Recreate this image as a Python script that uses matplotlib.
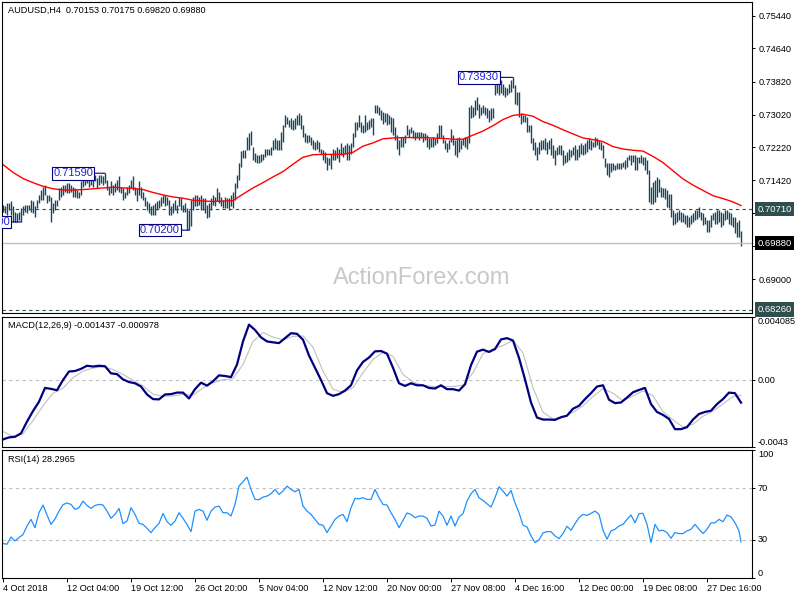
import numpy as np
import matplotlib.pyplot as plt
from matplotlib import transforms

# %% data (prices in 1e-4 units, one bar per 4 hours)
highs = [
    7082, 7078, 7086, 7086, 7090, 7078, 7065, 7061, 7065, 7073,
    7078, 7082, 7082, 7082, 7094, 7090, 7078, 7094, 7106, 7118,
    7126, 7130, 7106, 7106, 7102, 7086, 7094, 7094, 7122, 7126,
    7130, 7130, 7134, 7134, 7130, 7126, 7122, 7118, 7114, 7139,
    7147, 7155, 7157, 7151, 7155, 7151, 7155, 7147, 7155, 7155,
    7151, 7159, 7143, 7126, 7139, 7130, 7134, 7143, 7151, 7126,
    7122, 7114, 7126, 7130, 7143, 7151, 7126, 7122, 7139, 7126,
    7114, 7102, 7090, 7086, 7078, 7082, 7086, 7090, 7094, 7102,
    7106, 7106, 7102, 7094, 7078, 7086, 7094, 7082, 7102, 7098,
    7082, 7086, 7073, 7069, 7094, 7102, 7106, 7106, 7102, 7106,
    7098, 7098, 7082, 7086, 7098, 7106, 7102, 7122, 7114, 7102,
    7094, 7102, 7098, 7098, 7106, 7114, 7134, 7155, 7183, 7212,
    7216, 7216, 7248, 7257, 7261, 7224, 7208, 7204, 7204, 7207,
    7207, 7219, 7219, 7219, 7223, 7240, 7244, 7240, 7240, 7260,
    7276, 7301, 7297, 7288, 7293, 7288, 7293, 7301, 7305, 7301,
    7276, 7256, 7252, 7252, 7248, 7240, 7236, 7240, 7236, 7219,
    7215, 7211, 7199, 7195, 7207, 7219, 7215, 7223, 7219, 7232,
    7223, 7227, 7232, 7227, 7232, 7256, 7284, 7284, 7301, 7284,
    7276, 7301, 7284, 7288, 7293, 7293, 7325, 7325, 7321, 7313,
    7309, 7305, 7305, 7301, 7297, 7293, 7272, 7252, 7240, 7248,
    7248, 7252, 7276, 7268, 7272, 7264, 7260, 7260, 7260, 7260,
    7256, 7256, 7252, 7244, 7244, 7248, 7244, 7256, 7276, 7276,
    7252, 7240, 7232, 7240, 7268, 7252, 7240, 7244, 7248, 7240,
    7244, 7248, 7248, 7321, 7325, 7321, 7337, 7345, 7329, 7321,
    7325, 7321, 7317, 7313, 7317, 7317, 7382, 7386, 7378, 7386,
    7378, 7370, 7366, 7378, 7386, 7393, 7374, 7358, 7358, 7305,
    7301, 7301, 7297, 7276, 7276, 7244, 7236, 7223, 7236, 7240,
    7240, 7244, 7236, 7240, 7244, 7227, 7215, 7223, 7227, 7227,
    7215, 7203, 7211, 7219, 7215, 7223, 7227, 7219, 7227, 7232,
    7227, 7232, 7240, 7244, 7240, 7236, 7248, 7244, 7240, 7236,
    7227, 7195, 7183, 7183, 7183, 7183, 7179, 7183, 7183, 7183,
    7187, 7191, 7199, 7203, 7203, 7203, 7203, 7199, 7199, 7203,
    7199, 7199, 7191, 7166, 7126, 7138, 7142, 7150, 7146, 7126,
    7122, 7122, 7118, 7109, 7109, 7069, 7061, 7065, 7069, 7065,
    7061, 7056, 7056, 7052, 7056, 7061, 7069, 7069, 7077, 7065,
    7061, 7052, 7044, 7044, 7056, 7061, 7065, 7069, 7069, 7065,
    7061, 7069, 7069, 7065, 7061, 7052, 7052, 7040, 7044, 7018,
]
lows = [
    7065, 7061, 7057, 7069, 7057, 7041, 7041, 7041, 7045, 7040,
    7057, 7065, 7061, 7069, 7065, 7061, 7053, 7073, 7086, 7094,
    7094, 7106, 7086, 7090, 7041, 7061, 7069, 7078, 7094, 7102,
    7106, 7114, 7110, 7110, 7114, 7102, 7102, 7098, 7098, 7106,
    7126, 7130, 7134, 7126, 7130, 7126, 7139, 7122, 7130, 7134,
    7130, 7134, 7118, 7106, 7110, 7106, 7114, 7118, 7114, 7110,
    7094, 7098, 7106, 7110, 7122, 7118, 7106, 7090, 7106, 7098,
    7094, 7078, 7069, 7061, 7057, 7057, 7057, 7069, 7073, 7078,
    7086, 7078, 7082, 7057, 7057, 7061, 7069, 7061, 7078, 7069,
    7065, 7065, 7021, 7020, 7029, 7069, 7078, 7078, 7082, 7069,
    7069, 7061, 7049, 7053, 7069, 7082, 7078, 7090, 7086, 7078,
    7073, 7073, 7073, 7069, 7078, 7073, 7094, 7122, 7143, 7175,
    7196, 7196, 7216, 7216, 7228, 7191, 7187, 7183, 7183, 7187,
    7191, 7199, 7203, 7203, 7203, 7215, 7219, 7215, 7215, 7215,
    7236, 7272, 7280, 7272, 7268, 7264, 7268, 7276, 7276, 7268,
    7248, 7236, 7232, 7236, 7227, 7219, 7215, 7219, 7211, 7207,
    7191, 7183, 7166, 7179, 7170, 7191, 7191, 7195, 7187, 7203,
    7199, 7207, 7191, 7191, 7207, 7223, 7248, 7264, 7272, 7260,
    7256, 7260, 7264, 7268, 7272, 7252, 7305, 7305, 7301, 7288,
    7280, 7284, 7276, 7280, 7260, 7252, 7240, 7219, 7203, 7223,
    7223, 7232, 7252, 7248, 7256, 7244, 7240, 7244, 7240, 7244,
    7236, 7240, 7223, 7219, 7223, 7223, 7227, 7232, 7244, 7248,
    7232, 7219, 7211, 7219, 7236, 7227, 7203, 7199, 7211, 7219,
    7227, 7223, 7219, 7232, 7293, 7297, 7301, 7313, 7293, 7301,
    7305, 7301, 7293, 7284, 7288, 7293, 7350, 7354, 7350, 7354,
    7350, 7345, 7350, 7354, 7358, 7366, 7329, 7325, 7297, 7280,
    7284, 7284, 7260, 7260, 7232, 7215, 7203, 7191, 7207, 7215,
    7219, 7215, 7207, 7219, 7203, 7195, 7179, 7203, 7207, 7203,
    7179, 7183, 7187, 7191, 7199, 7203, 7191, 7191, 7199, 7207,
    7203, 7207, 7211, 7219, 7215, 7223, 7223, 7227, 7219, 7215,
    7195, 7175, 7154, 7150, 7162, 7166, 7166, 7170, 7170, 7170,
    7175, 7170, 7175, 7191, 7179, 7187, 7166, 7166, 7183, 7183,
    7179, 7166, 7158, 7089, 7085, 7085, 7089, 7101, 7113, 7101,
    7101, 7097, 7077, 7073, 7052, 7032, 7036, 7040, 7044, 7040,
    7040, 7036, 7028, 7028, 7036, 7040, 7044, 7048, 7052, 7044,
    7032, 7036, 7016, 7016, 7028, 7044, 7036, 7036, 7040, 7028,
    7032, 7044, 7048, 7036, 7032, 7028, 7012, 7004, 7004, 6982,
]

# moving average, sampled every 5 bars (last point = last bar)
ma_vals = [
    7180, 7161, 7146, 7136, 7127, 7121, 7118, 7118, 7119, 7121,
    7123, 7125, 7123, 7122, 7119, 7112, 7106, 7101, 7098, 7093,
    7091, 7090, 7091, 7092, 7108, 7123, 7136, 7150, 7163, 7181,
    7198, 7204, 7205, 7205, 7205, 7210, 7225, 7233, 7243, 7245,
    7246, 7246, 7246, 7245, 7244, 7242, 7242, 7252, 7262, 7275,
    7290, 7300, 7303, 7298, 7285, 7276, 7265, 7255, 7245, 7241,
    7236, 7224, 7218, 7215, 7213, 7200, 7185, 7165, 7145, 7130,
    7117, 7104, 7097, 7089, 7080,
]

# MACD(12,26,9) main line every 3 bars, signal every 5 bars (1e-4 units)
macd_vals = [
    -38.1, -36.8, -36.4, -34.2, -26.6, -19.8, -13.8, -4.9, -5.5, -6.4,
    0.2, 5.7, 6.0, 7.4, 9.4, 8.9, 9.4, 9.1, 4.5, 4.0,
    0.6, -1.1, -1.9, -4.0, -9.1, -12.1, -12.3, -9.1, -8.9, -7.9,
    -7.9, -11.7, -5.7, -1.5, -3.4, -0.6, 3.2, 2.8, 2.1, 10.2,
    25.1, 35.9, 32.5, 27.7, 25.1, 24.5, 24.0, 27.2, 30.4, 30.0,
    26.2, 16.0, 8.1, 0.2, -8.3, -10.0, -8.9, -6.6, -3.2, 6.4,
    11.9, 14.7, 18.7, 18.9, 17.2, 8.1, -1.9, -3.6, -1.9, -3.2,
    -3.2, -4.9, -5.3, -3.2, -5.7, -5.7, -6.6, -2.6, 9.8, 18.5,
    19.8, 18.3, 20.2, 26.4, 27.2, 25.7, 14.5, 0.6, -14.3, -24.0,
    -25.3, -25.3, -25.5, -23.8, -22.8, -18.3, -16.4, -12.1, -8.3, -4.0,
    -3.2, -12.5, -14.7, -14.3, -11.1, -7.7, -6.2, -4.9, -15.3, -20.4,
    -22.3, -24.9, -31.5, -31.5, -30.2, -25.3, -21.7, -20.4, -19.6, -15.3,
    -12.1, -7.9, -8.3, -14.37,
]
signal_vals = [
    -33.0, -36.2, -34.5, -25.9, -16.4, -8.3, -5.1, 1.7, 6.0, 7.9,
    8.7, 7.0, 3.8, 0.0, -3.6, -8.9, -10.4, -10.0, -9.1, -9.6,
    -4.9, -1.5, 0.4, 1.1, 10.2, 25.1, 30.8, 27.9, 26.2, 28.3,
    28.7, 21.3, 6.0, -5.7, -7.9, -4.7, 4.9, 13.4, 18.1, 15.5,
    3.8, -1.1, -3.2, -4.0, -4.0, -4.0, -3.2, 4.9, 17.2, 20.2,
    22.5, 25.7, 17.7, -4.7, -20.6, -24.9, -23.8, -20.6, -16.4, -10.4,
    -5.3, -8.3, -13.2, -10.0, -6.8, -10.0, -20.2, -25.5, -30.2, -28.3,
    -23.2, -19.8, -15.3, -10.4, -9.78,
]

# RSI(14), every 2 bars (last point = last bar)
rsi_vals = [
    26.9, 26.4, 32.0, 29.0, 31.6, 33.9, 40.6, 45.8, 39.3, 51.0,
    57.0, 49.2, 41.9, 46.1, 52.3, 57.3, 58.6, 57.5, 53.6, 54.9,
    60.1, 56.7, 54.4, 56.7, 57.5, 57.0, 52.3, 46.6, 49.7, 54.4,
    42.5, 44.5, 54.9, 49.7, 42.7, 41.9, 38.8, 35.5, 39.3, 42.7,
    50.5, 44.0, 41.2, 44.5, 51.0, 46.6, 41.9, 36.2, 52.3, 53.6,
    52.3, 45.1, 52.3, 55.4, 56.2, 51.0, 51.0, 48.4, 57.5, 71.8,
    75.2, 78.8, 69.2, 61.4, 61.2, 63.2, 64.0, 65.8, 69.2, 65.3,
    67.9, 71.8, 69.2, 67.4, 69.2, 56.2, 52.3, 49.7, 45.8, 41.9,
    41.2, 35.5, 40.6, 45.8, 48.4, 49.7, 44.0, 54.9, 62.2, 61.9,
    62.7, 61.4, 61.4, 69.2, 62.7, 57.5, 57.0, 51.0, 45.8, 39.3,
    45.1, 50.8, 49.7, 47.1, 48.4, 48.4, 46.6, 40.6, 41.4, 52.3,
    48.4, 41.2, 48.4, 40.6, 47.7, 50.3, 60.1, 65.8, 69.2, 62.7,
    60.6, 58.0, 55.4, 62.7, 71.3, 67.9, 64.0, 68.4, 58.8, 51.0,
    41.2, 39.9, 32.9, 27.7, 29.7, 35.2, 36.2, 36.2, 32.9, 30.8,
    34.7, 40.4, 37.3, 42.5, 47.1, 49.7, 48.9, 50.5, 52.3, 49.7,
    37.3, 30.3, 36.8, 38.1, 40.6, 41.9, 45.8, 49.2, 43.2, 50.3,
    50.5, 41.9, 27.7, 41.9, 36.8, 37.3, 35.5, 31.0, 35.5, 34.7,
    34.7, 36.8, 38.1, 41.9, 38.1, 34.7, 38.1, 43.0, 43.2, 45.8,
    44.0, 49.2, 47.7, 43.2, 36.8, 28.3,
]

price_ticks = [0.7544, 0.7464, 0.7382, 0.7302, 0.7222, 0.7142, 0.7062, 0.6982, 0.6900]
time_labels = ['4 Oct 2018', '12 Oct 04:00', '19 Oct 12:00', '26 Oct 20:00',
               '5 Nov 04:00', '12 Nov 12:00', '20 Nov 00:00', '27 Nov 08:00',
               '4 Dec 16:00', '12 Dec 00:00', '19 Dec 08:00', '27 Dec 16:00']

highs = np.array(highs) / 1e4
lows = np.array(lows) / 1e4
n = len(highs)
bars = np.arange(n)
last = n - 1
ma_x = np.r_[0:last:5, last]
macd_x = np.r_[0:last:3, last]
rsi_x = np.r_[0:last:2, last]
ma = np.array(ma_vals) / 1e4
macd = np.array(macd_vals) / 1e4
signal = np.array(signal_vals) / 1e4
rsi = np.array(rsi_vals)

FONT = 'Liberation Sans'
BAR = '#17475c'
SLATE = '#2f4f4f'
plt.rcParams['font.family'] = FONT

fig = plt.figure(figsize=(8, 6), dpi=100)


def panel(top, bottom):
    # axes placed by pixel rows of the 800x600 picture
    ax = fig.add_axes([2 / 800, 1 - bottom / 600, 750 / 800, (bottom - top) / 600])
    ax.set_xlim(-0.5, 374.5)
    for s in ax.spines.values():
        s.set_linewidth(0.8)
    ax.yaxis.tick_right()
    ax.tick_params(axis='y', direction='out', length=2.5, width=0.7, pad=2,
                   labelsize=6.6)
    ax.tick_params(axis='x', bottom=False, labelbottom=False)
    return ax


ax = panel(2, 313)
ax_macd = panel(317, 447)
ax_rsi = panel(450, 578)

# main price panel
ax.set_ylim(0.68177, 0.75770)
ax.vlines(bars, lows, highs, color=BAR, lw=1.0)
ax.plot(ma_x, ma, color='red', lw=1.0)
ax.axhline(0.7071, color=SLATE, lw=0.8, dashes=(3, 3))
ax.axhline(0.6826, color=SLATE, lw=0.8, dashes=(3, 3))
ax.axhline(0.6988, color='#c0c0c0', lw=1.0)
ax.set_yticks(price_ticks, [f'{v:.5f}' for v in price_ticks])
ax.text(0.559, 0.113, 'ActionForex.com', transform=ax.transAxes, ha='center',
        va='center', fontsize=17, color='#c8c8c8', zorder=0)

right = transforms.blended_transform_factory(ax.transAxes, ax.transData)
for lvl, fc in [(0.7071, SLATE), (0.6988, 'black'), (0.6826, SLATE)]:
    ax.text(1.007, lvl, f'{lvl:.5f}', transform=right, va='center', ha='left',
            fontsize=6.8, color='white', zorder=10, clip_on=False,
            bbox=dict(boxstyle='square,pad=0.28', fc=fc, ec='none'))


def price_box(i, price, gap, text=None):
    ann = ax.annotate(text or f'{price:.5f}', xy=(i, price), xytext=(-gap, 0),
                      textcoords='offset pixels', ha='right', va='center',
                      fontsize=8, color='#2525c8', zorder=6,
                      bbox=dict(boxstyle='square,pad=0.12', fc='white', ec='#000080', lw=0.8),
                      arrowprops=dict(arrowstyle='-', color='#000080', lw=0.8,
                                      shrinkA=0, shrinkB=0))
    ann.set_clip_path(ax.patch)
    return ann


price_box(51, 0.7159, 12)
price_box(93, 0.7020, 9)
price_box(255, 0.7393, 14)
price_box(9, 0.7040, 11)

# MACD panel
ax_macd.set_ylim(-0.0043, 0.004085)
ax_macd.axhline(0, color='#c0c0c0', lw=0.8, dashes=(3, 3))
ax_macd.plot(ma_x, signal, color='#c0c0c0', lw=0.8)
ax_macd.plot(macd_x, macd, color='#000080', lw=1.6)
ax_macd.set_yticks([0.004085, 0.0, -0.0043], ['', '', ''])
mt = transforms.blended_transform_factory(ax_macd.transAxes, ax_macd.transData)
for v, s, va in [(0.004085, '0.004085', 'top'), (0.0, '0.00', 'center'),
                 (-0.0043, '-0.0043', 'bottom')]:
    ax_macd.text(1.008, v, s, transform=mt, va=va, ha='left', fontsize=6.6,
                 clip_on=False)

# RSI panel
ax_rsi.set_ylim(0, 100)
for lvl in (70, 30):
    ax_rsi.axhline(lvl, color='#c0c0c0', lw=0.8, dashes=(3, 3))
ax_rsi.plot(rsi_x, rsi, color='#1e90ff', lw=0.9)
ax_rsi.set_yticks([100, 70, 30, 0], ['', '', '', ''])
rt = transforms.blended_transform_factory(ax_rsi.transAxes, ax_rsi.transData)
for v, va in [(100, 'top'), (70, 'center'), (30, 'center'), (0, 'bottom')]:
    ax_rsi.text(1.008, v, str(v), transform=rt, va=va, ha='left', fontsize=6.6,
                clip_on=False)

ax_rsi.tick_params(axis='x', bottom=True, labelbottom=True, direction='out',
                   length=3, width=0.7, pad=1.5, labelsize=6.6)
ax_rsi.set_xticks(np.arange(0, 32 * len(time_labels), 32), time_labels, ha='left')

# indicator captions
fig.text(8 / 800, 1 - 10 / 600, 'AUDUSD,H4  0.70153 0.70175 0.69820 0.69880',
         fontsize=6.6, va='center')
fig.text(8 / 800, 1 - 326 / 600, 'MACD(12,26,9) -0.001437 -0.000978',
         fontsize=6.6, va='center')
fig.text(8 / 800, 1 - 459 / 600, 'RSI(14) 28.2965', fontsize=6.6, va='center')

fig.savefig('out.png', dpi=100)
